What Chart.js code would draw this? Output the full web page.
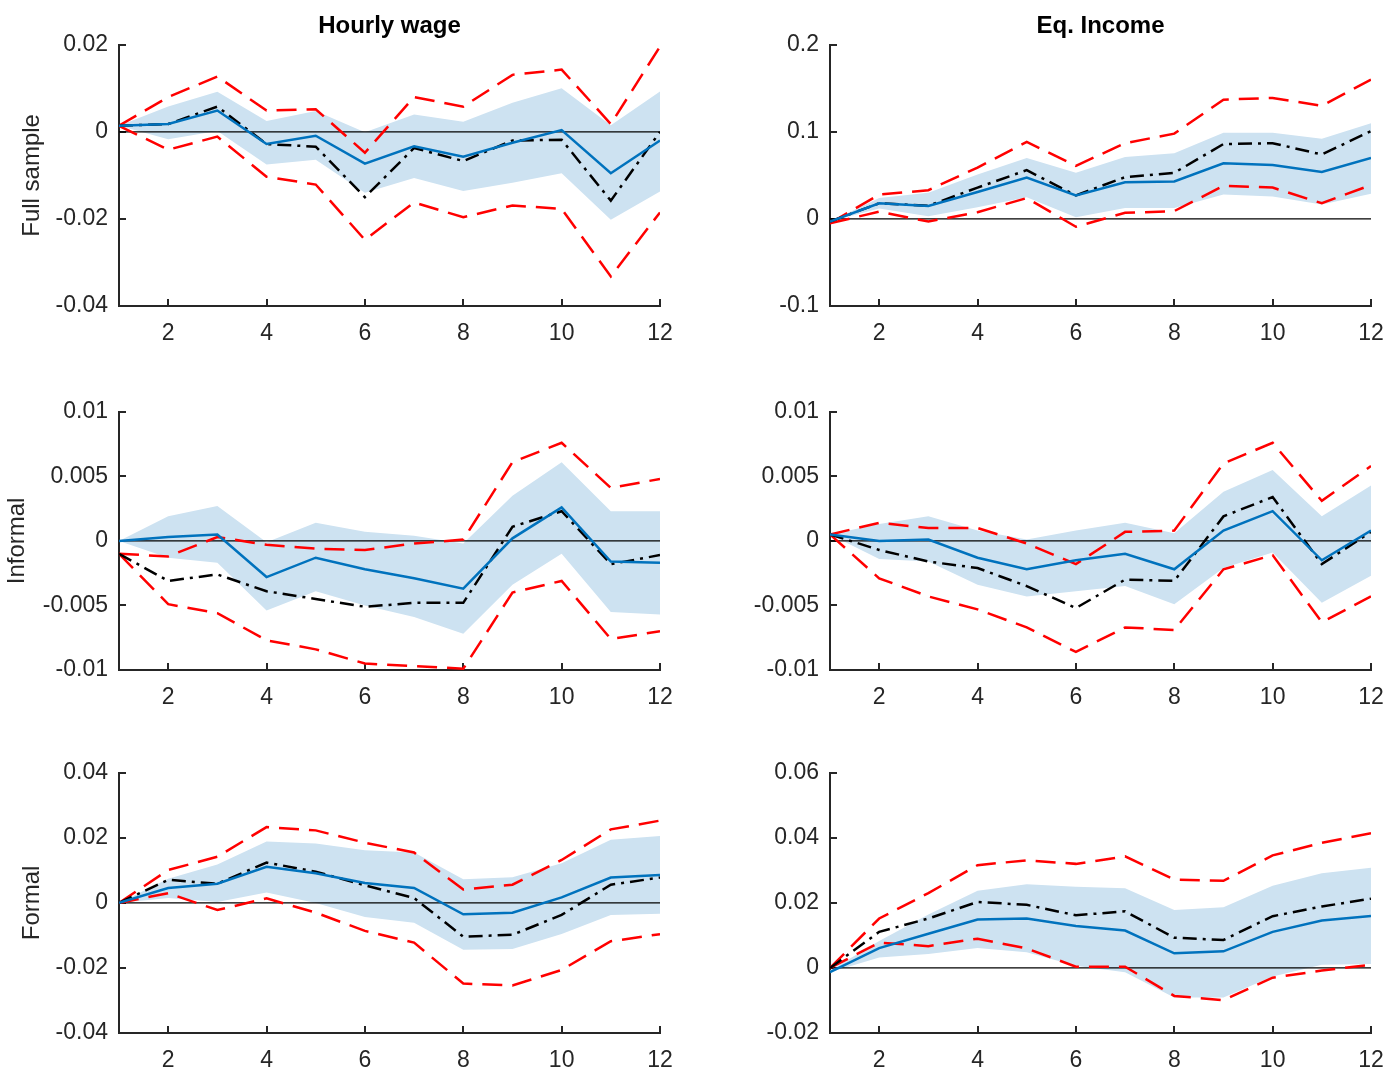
<!DOCTYPE html>
<html lang="en">
<head>
<meta charset="utf-8"/>
<title>Impulse responses: hourly wage and eq. income</title>
<script src="https://cdn.jsdelivr.net/npm/chart.js"></script>
<style>
    body {
        margin: 0;
        background-color: #ffffff;
    }
    .page {
        position: relative;
        width: 1385px;
        height: 1073px;
        overflow: hidden;
    }
    .page canvas {
        position: absolute;
    }
</style>
</head>
<body>
<div class="page">
<canvas id="fullWage" width="680" height="346" style="left:0px;top:0px"></canvas>
<canvas id="fullIncome" width="685" height="346" style="left:700px;top:0px"></canvas>
<canvas id="informalWage" width="680" height="330" style="left:0px;top:380px"></canvas>
<canvas id="informalIncome" width="685" height="330" style="left:700px;top:380px"></canvas>
<canvas id="formalWage" width="680" height="332" style="left:0px;top:741px"></canvas>
<canvas id="formalIncome" width="685" height="332" style="left:700px;top:741px"></canvas>
</div>
<script>
    // horizons on the x axis
    const horizons = [1, 2, 3, 4, 5, 6, 7, 8, 9, 10, 11, 12];

    // Full sample - hourly wage
    const fullWageIrf    = [0.0014, 0.0018, 0.0049, -0.0028, -0.0009, -0.0073, -0.0033, -0.0057, -0.0025, 0.0004, -0.0095, -0.0020];
    const fullWageAlt    = [0.0014, 0.0018, 0.0058, -0.0028, -0.0034, -0.0150, -0.0037, -0.0067, -0.0020, -0.0018, -0.0158, 0.0000];
    const fullWageCiHi   = [0.0014, 0.0080, 0.0127, 0.0049, 0.0052, -0.0048, 0.0080, 0.0058, 0.0131, 0.0143, 0.0018, 0.0196];
    const fullWageCiLo   = [0.0014, -0.0041, -0.0011, -0.0103, -0.0121, -0.0248, -0.0162, -0.0196, -0.0169, -0.0177, -0.0332, -0.0185];
    const fullWageBandHi = [0.0014, 0.0058, 0.0092, 0.0025, 0.0048, -0.0001, 0.0040, 0.0023, 0.0067, 0.0100, 0.0015, 0.0093];
    const fullWageBandLo = [0.0014, -0.0017, 0.0002, -0.0075, -0.0064, -0.0140, -0.0106, -0.0136, -0.0117, -0.0095, -0.0202, -0.0137];

    // Full sample - eq. income
    const fullIncIrf    = [-0.003, 0.018, 0.015, 0.031, 0.0475, 0.027, 0.042, 0.043, 0.064, 0.062, 0.054, 0.070];
    const fullIncAlt    = [-0.003, 0.018, 0.015, 0.036, 0.056, 0.027, 0.048, 0.053, 0.086, 0.087, 0.074, 0.101];
    const fullIncCiHi   = [-0.005, 0.028, 0.033, 0.059, 0.0885, 0.061, 0.087, 0.098, 0.137, 0.139, 0.130, 0.160];
    const fullIncCiLo   = [-0.005, 0.0084, -0.003, 0.0077, 0.024, -0.009, 0.007, 0.009, 0.038, 0.036, 0.018, 0.039];
    const fullIncBandHi = [-0.003, 0.024, 0.030, 0.051, 0.070, 0.053, 0.071, 0.0755, 0.099, 0.099, 0.092, 0.110];
    const fullIncBandLo = [-0.003, 0.012, 0.003, 0.0134, 0.025, 0.002, 0.0126, 0.0126, 0.028, 0.0257, 0.0165, 0.029];

    // Informal - hourly wage
    const infWageIrf    = [0, 0.0003, 0.0005, -0.0028, -0.0013, -0.0022, -0.0029, -0.0037, 0.0002, 0.0026, -0.0016, -0.0017];
    const infWageAlt    = [-0.0010, -0.0031, -0.0026, -0.0039, -0.0045, -0.0051, -0.0048, -0.0048, 0.0011, 0.0023, -0.0018, -0.0011];
    const infWageCiHi   = [-0.0010, -0.0012, 0.0003, -0.0003, -0.0006, -0.0007, -0.0002, 0.0001, 0.0061, 0.0076, 0.0041, 0.0048];
    const infWageCiLo   = [-0.0010, -0.0049, -0.0056, -0.0077, -0.0084, -0.0095, -0.0097, -0.0099, -0.0040, -0.0031, -0.0076, -0.0070];
    const infWageBandHi = [0, 0.0019, 0.0027, -0.0001, 0.0014, 0.0007, 0.0004, -0.0002, 0.0035, 0.0061, 0.0023, 0.0023];
    const infWageBandLo = [0, -0.0013, -0.0017, -0.0054, -0.0039, -0.0050, -0.0059, -0.0072, -0.0034, -0.0010, -0.0055, -0.0057];

    // Informal - eq. income
    const infIncIrf    = [0.0005, 0, 0.0001, -0.0013, -0.0022, -0.0015, -0.0010, -0.0022, 0.0008, 0.0023, -0.0015, 0.0008];
    const infIncAlt    = [0.0005, -0.0007, -0.0016, -0.0021, -0.0035, -0.0052, -0.0030, -0.0031, 0.0019, 0.0034, -0.0018, 0.0007];
    const infIncCiHi   = [0.0005, 0.0014, 0.0010, 0.0010, -0.0002, -0.0018, 0.0007, 0.0008, 0.0060, 0.0076, 0.0031, 0.0058];
    const infIncCiLo   = [0.0005, -0.0029, -0.0043, -0.0053, -0.0067, -0.0086, -0.0067, -0.0069, -0.0022, -0.0011, -0.0063, -0.0043];
    const infIncBandHi = [0.0005, 0.0013, 0.0019, 0.0008, 0.0001, 0.0008, 0.0014, 0.0006, 0.0038, 0.0055, 0.0019, 0.0043];
    const infIncBandLo = [0.0005, -0.0014, -0.0016, -0.0034, -0.0043, -0.0039, -0.0035, -0.0049, -0.0021, -0.0009, -0.0048, -0.0027];

    // Formal - hourly wage
    const forWageIrf    = [0, 0.0046, 0.0059, 0.0111, 0.0091, 0.0061, 0.0046, -0.0035, -0.0030, 0.0017, 0.0078, 0.0086];
    const forWageAlt    = [0, 0.0071, 0.0059, 0.0124, 0.0096, 0.0054, 0.0015, -0.0104, -0.0098, -0.0037, 0.0056, 0.0078];
    const forWageCiHi   = [0, 0.0101, 0.0142, 0.0233, 0.0223, 0.0185, 0.0155, 0.0041, 0.0056, 0.0132, 0.0226, 0.0253];
    const forWageCiLo   = [0, 0.0030, -0.0022, 0.0014, -0.0030, -0.0086, -0.0122, -0.0248, -0.0254, -0.0206, -0.0118, -0.0096];
    const forWageBandHi = [0, 0.0074, 0.0118, 0.0189, 0.0183, 0.0162, 0.0155, 0.0073, 0.0079, 0.0122, 0.0194, 0.0206];
    const forWageBandLo = [0, 0.0015, 0.0003, 0.0032, 0, -0.0043, -0.0061, -0.0144, -0.0142, -0.0096, -0.0037, -0.0033];

    // Formal - eq. income
    const forIncIrf    = [-0.0013, 0.0061, 0.0105, 0.0149, 0.0152, 0.0129, 0.0115, 0.0045, 0.0051, 0.0111, 0.0146, 0.0160];
    const forIncAlt    = [0, 0.0111, 0.0152, 0.0203, 0.0194, 0.0162, 0.0174, 0.0093, 0.0086, 0.0159, 0.0189, 0.0213];
    const forIncCiHi   = [0, 0.0152, 0.0230, 0.0316, 0.0331, 0.0320, 0.0343, 0.0272, 0.0268, 0.0346, 0.0385, 0.0414];
    const forIncCiLo   = [0, 0.0078, 0.0067, 0.0090, 0.0060, 0.0004, 0.0004, -0.0086, -0.0099, -0.0030, -0.0008, 0.0010];
    const forIncBandHi = [-0.0008, 0.0083, 0.0164, 0.0237, 0.0257, 0.0250, 0.0245, 0.0178, 0.0187, 0.0253, 0.0291, 0.0308];
    const forIncBandLo = [-0.0013, 0.0032, 0.0043, 0.0061, 0.0048, 0.0007, -0.0013, -0.0091, -0.0091, -0.0026, 0.0010, 0.0012];

    // y axis limits and steps: [min, max, step]
    const fullWageY = [-0.04, 0.02, 0.02];
    const fullIncY  = [-0.1, 0.2, 0.1];
    const infWageY  = [-0.01, 0.01, 0.005];
    const infIncY   = [-0.01, 0.01, 0.005];
    const forWageY  = [-0.04, 0.04, 0.02];
    const forIncY   = [-0.02, 0.06, 0.02];

    const columnTitles = ['Hourly wage', 'Eq. Income'];
    const rowLabels = ['Full sample', 'Informal', 'Formal'];

    const FONT = "'Liberation Sans', Arial, Helvetica, sans-serif";
    const AXIS_COLOR = '#262626';

    function toPoints(values) {
        return horizons.map((h, i) => ({x: h, y: values[i]}));
    }

    function makePanel(id, s, p) {
        const ctx = document.getElementById(id).getContext('2d');
        return new Chart(ctx, {
            type: 'line',
            data: {
                datasets: [
                    {data: toPoints(s.irf), borderColor: '#0072BD', borderWidth: 2.5, order: 0},
                    {data: toPoints(s.alt), borderColor: '#000000', borderWidth: 2.5, borderDash: [14, 6, 3, 6], order: 1},
                    {data: toPoints(s.ciHi), borderColor: '#FF0000', borderWidth: 2.5, borderDash: [20, 10], order: 2},
                    {data: toPoints(s.ciLo), borderColor: '#FF0000', borderWidth: 2.5, borderDash: [20, 10], order: 3},
                    // zero reference line
                    {data: [{x: horizons[0], y: 0}, {x: horizons[horizons.length - 1], y: 0}], borderColor: '#000000', borderWidth: 1.2, order: 4},
                    {data: toPoints(s.bandHi), borderColor: 'rgba(0,0,0,0)', borderWidth: 1, backgroundColor: '#cde2f1', fill: '+1', order: 5},
                    {data: toPoints(s.bandLo), borderColor: 'rgba(0,0,0,0)', borderWidth: 1, fill: false, order: 6}
                ]
            },
            options: {
                responsive: false,
                animation: false,
                layout: {padding: {top: p.padTop, right: p.padRight, bottom: 0, left: 0}},
                elements: {point: {radius: 0}, line: {tension: 0}},
                plugins: {
                    legend: {display: false},
                    tooltip: {enabled: false},
                    title: {
                        display: !!p.title,
                        text: p.title || '',
                        fullSize: false,
                        color: '#000000',
                        font: {family: FONT, size: 24, weight: 'bold'},
                        padding: {top: 12, bottom: 4}
                    }
                },
                scales: {
                    x: {
                        type: 'linear',
                        min: horizons[0],
                        max: horizons[horizons.length - 1],
                        afterFit: function(scale) {
                            scale.height = 40;
                            // the tick padding should not shrink the plot sideways
                            scale.paddingLeft = 0;
                            scale.paddingRight = 0;
                        },
                        border: {color: AXIS_COLOR, width: 2},
                        grid: {drawOnChartArea: false, tickLength: -7, color: AXIS_COLOR, lineWidth: 2},
                        ticks: {
                            stepSize: 2,
                            includeBounds: false,
                            autoSkip: false,
                            maxRotation: 0,
                            padding: 21,
                            color: AXIS_COLOR,
                            font: {family: FONT, size: 23}
                        }
                    },
                    y: {
                        min: p.y[0],
                        max: p.y[1],
                        afterFit: function(scale) { scale.width = p.axisWidth; },
                        border: {color: AXIS_COLOR, width: 2},
                        grid: {drawOnChartArea: false, tickLength: -7, color: AXIS_COLOR, lineWidth: 2},
                        ticks: {
                            stepSize: p.y[2],
                            padding: 18,
                            color: AXIS_COLOR,
                            font: {family: FONT, size: 23},
                            callback: function(value) { return String(+value.toFixed(4)); }
                        },
                        title: {
                            display: !!p.rowLabel,
                            text: p.rowLabel || '',
                            color: AXIS_COLOR,
                            font: {family: FONT, size: 24},
                            padding: {top: p.labelPad || 0, bottom: 0}
                        }
                    }
                }
            }
        });
    }

    makePanel('fullWage',
        {irf: fullWageIrf, alt: fullWageAlt, ciHi: fullWageCiHi, ciLo: fullWageCiLo, bandHi: fullWageBandHi, bandLo: fullWageBandLo},
        {y: fullWageY, title: columnTitles[0], rowLabel: rowLabels[0], labelPad: 18, padTop: 0, padRight: 20, axisWidth: 119});
    makePanel('fullIncome',
        {irf: fullIncIrf, alt: fullIncAlt, ciHi: fullIncCiHi, ciLo: fullIncCiLo, bandHi: fullIncBandHi, bandLo: fullIncBandLo},
        {y: fullIncY, title: columnTitles[1], padTop: 0, padRight: 14, axisWidth: 130});
    makePanel('informalWage',
        {irf: infWageIrf, alt: infWageAlt, ciHi: infWageCiHi, ciLo: infWageCiLo, bandHi: infWageBandHi, bandLo: infWageBandLo},
        {y: infWageY, rowLabel: rowLabels[1], labelPad: 3, padTop: 30, padRight: 20, axisWidth: 119});
    makePanel('informalIncome',
        {irf: infIncIrf, alt: infIncAlt, ciHi: infIncCiHi, ciLo: infIncCiLo, bandHi: infIncBandHi, bandLo: infIncBandLo},
        {y: infIncY, padTop: 30, padRight: 14, axisWidth: 130});
    makePanel('formalWage',
        {irf: forWageIrf, alt: forWageAlt, ciHi: forWageCiHi, ciLo: forWageCiLo, bandHi: forWageBandHi, bandLo: forWageBandLo},
        {y: forWageY, rowLabel: rowLabels[2], labelPad: 18, padTop: 30, padRight: 20, axisWidth: 119});
    makePanel('formalIncome',
        {irf: forIncIrf, alt: forIncAlt, ciHi: forIncCiHi, ciLo: forIncCiLo, bandHi: forIncBandHi, bandLo: forIncBandLo},
        {y: forIncY, padTop: 30, padRight: 14, axisWidth: 130});
</script>
</body>
</html>
